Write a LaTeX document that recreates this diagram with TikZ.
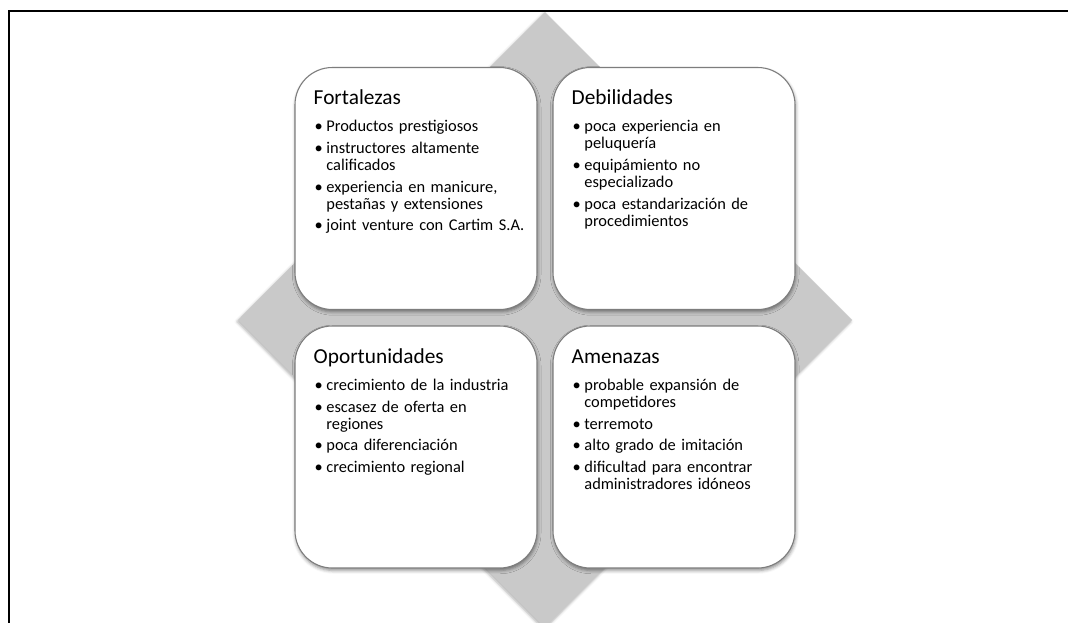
\documentclass[tikz,border=0pt]{standalone}
\usepackage{fontspec}
\setmainfont{Carlito}
\usetikzlibrary{calc,shadows.blur}
\definecolor{diamondgray}{RGB}{201,201,201}
\definecolor{boxline}{RGB}{125,125,125}
% one bullet item with a hanging indent; later items get a little space above
\newcommand\swotfirst[1]{\noindent\hangindent=9.5pt\hangafter=1\makebox[9.5pt][l]{\hspace{0.6pt}•}#1\par}
\newcommand\swotitem[1]{\vspace{3.5pt}\swotfirst{#1}}
\begin{document}
\begin{tikzpicture}[x=0.75pt,y=-0.75pt,
  swotbox/.style={draw=boxline, line width=0.8pt, fill=white, rounded corners=28pt,
    minimum width=181.5pt, minimum height=181.5pt, inner sep=0pt,
    blur shadow={shadow xshift=0.5pt, shadow yshift=-1.8pt, shadow blur radius=2.5pt, shadow opacity=45}},
  boxtitle/.style={anchor=base west, inner sep=0pt, font=\fontsize{16}{19}\selectfont},
  boxlist/.style={anchor=base west, inner sep=0pt, text width=170pt, align=left,
    font=\fontsize{12.3}{12.75}\selectfont}]
\useasboundingbox (0,0) rectangle (1068,622);

% frame
\draw[line width=1.5pt] (8.5,630) -- (8.5,10.5) -- (1075,10.5);

% background diamond
\fill[diamondgray, blur shadow={shadow xshift=-0.8pt, shadow yshift=-1.2pt, shadow blur radius=2pt, shadow opacity=30}]
  (545,12) -- (852,320) -- (545,628) -- (238,320) -- cycle;

% quadrants
\node[swotbox] (fort) at (416,188.5) {};
\node[swotbox] (deb)  at (674,188.5) {};
\node[swotbox] (opor) at (416,447) {};
\node[swotbox] (amen) at (674,447) {};

\node[boxtitle] (fort-t) at ($(fort.north west)+(19,38)$) {Fortalezas};
\node[boxlist]  (fort-l) at ($(fort.north west)+(19,65)$) {%
  \swotfirst{Productos prestigiosos}
  \swotitem{instructores altamente\newline calificados}
  \swotitem{experiencia en manicure,\newline pestañas y extensiones}
  \swotitem{joint venture con Cartim S.A.}};

\node[boxtitle] (deb-t) at ($(deb.north west)+(19,38)$) {Debilidades};
\node[boxlist]  (deb-l) at ($(deb.north west)+(19,65)$) {%
  \swotfirst{poca experiencia en\newline peluquería}
  \swotitem{equipámiento no\newline especializado}
  \swotitem{poca estandarización de\newline procedimientos}};

\node[boxtitle] (opor-t) at ($(opor.north west)+(19,38)$) {Oportunidades};
\node[boxlist]  (opor-l) at ($(opor.north west)+(19,65)$) {%
  \swotfirst{crecimiento de la industria}
  \swotitem{escasez de oferta en\newline regiones}
  \swotitem{poca diferenciación}
  \swotitem{crecimiento regional}};

\node[boxtitle] (amen-t) at ($(amen.north west)+(19,38)$) {Amenazas};
\node[boxlist]  (amen-l) at ($(amen.north west)+(19,65)$) {%
  \swotfirst{probable expansión de\newline competidores}
  \swotitem{terremoto}
  \swotitem{alto grado de imitación}
  \swotitem{dificultad para encontrar\newline administradores idóneos}};
\end{tikzpicture}
\end{document}
